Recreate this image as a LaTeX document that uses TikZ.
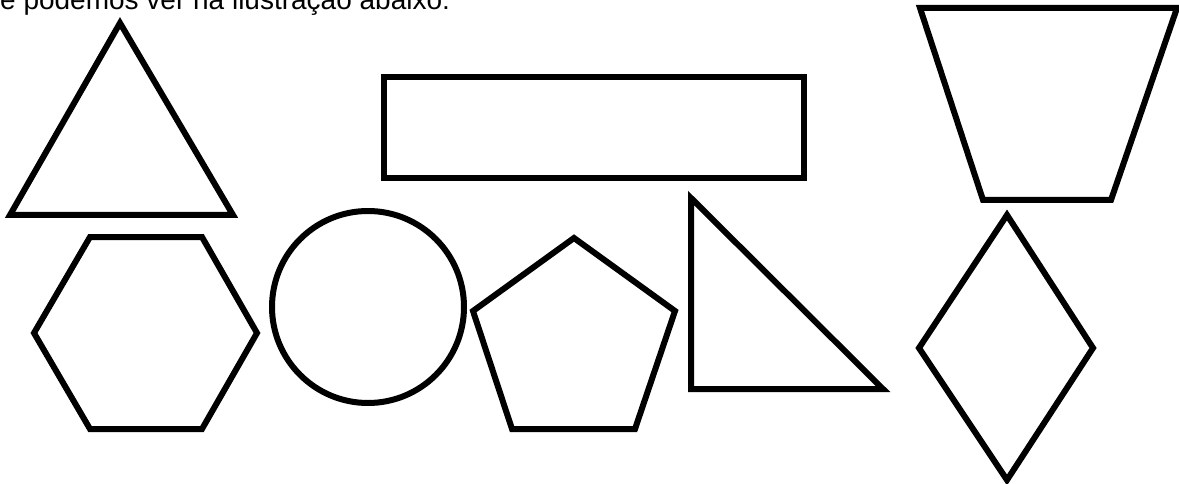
\documentclass[tikz,border=0pt]{standalone}
\usepackage{fontspec}
\setmainfont{Liberation Sans}
\usepackage{tikz}
\tikzset{
    outline/.style={draw=black, line width=6pt, line join=miter},
    caption/.style={font=\fontsize{28}{30}\selectfont, inner sep=0pt, anchor=base west}
}

\begin{document}
\begin{tikzpicture}[x=1pt, y=-1pt]
    \useasboundingbox (0,0) rectangle (1179,484);
    \node (intro) [caption] at (0,10) {e podemos ver na ilustração abaixo:};

    % top row
    \draw [outline] (120,23) -- (233,215) -- (10,215) -- cycle;
    \draw [outline] (384,77.5) rectangle (804,178);
    \draw [outline] (920,8) -- (1177,8) -- (1111,200) -- (983,200) -- cycle;

    % bottom row
    \draw [outline] (90,237) -- (202,237) -- (257,333) -- (202,429) -- (90,429) -- (34,333) -- cycle;
    \draw [outline] (368,307) circle [radius=96];
    \draw [outline] (574,238) -- (675,311) -- (635,429) -- (512,429) -- (473,311) -- cycle;
    \draw [outline] (691,198) -- (883,389) -- (691,389) -- cycle;
    \draw [outline] (1007,215) -- (1093,348) -- (1007,480) -- (919,348) -- cycle;
\end{tikzpicture}
\end{document}
